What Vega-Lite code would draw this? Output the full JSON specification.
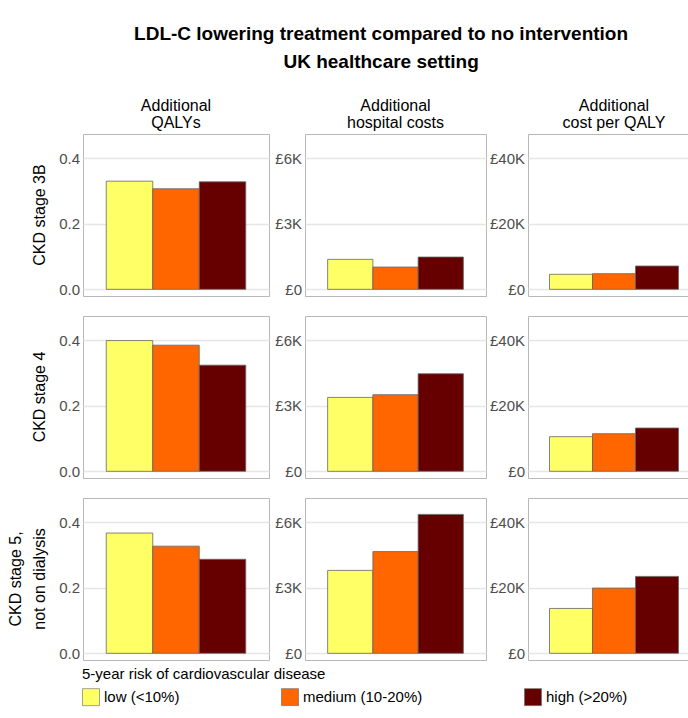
{
  "$schema": "https://vega.github.io/schema/vega-lite/v6.json",
  "background": "white",
  "padding": {"left": 7, "top": 25, "right": 0, "bottom": 0},
  "title": {
    "text": ["LDL-C lowering treatment compared to no intervention", "UK healthcare setting"],
    "fontSize": 19,
    "fontWeight": "bold",
    "lineHeight": 28,
    "anchor": "middle",
    "dx": 27,
    "color": "#000000",
    "offset": 26
  },
  "data": {
    "values": [
      {"metric": "Additional QALYs", "stage": "CKD stage 3B", "risk": "low (<10%)", "value": 0.330},
      {"metric": "Additional QALYs", "stage": "CKD stage 3B", "risk": "medium (10-20%)", "value": 0.307},
      {"metric": "Additional QALYs", "stage": "CKD stage 3B", "risk": "high (>20%)", "value": 0.328},
      {"metric": "Additional QALYs", "stage": "CKD stage 4", "risk": "low (<10%)", "value": 0.399},
      {"metric": "Additional QALYs", "stage": "CKD stage 4", "risk": "medium (10-20%)", "value": 0.385},
      {"metric": "Additional QALYs", "stage": "CKD stage 4", "risk": "high (>20%)", "value": 0.324},
      {"metric": "Additional QALYs", "stage": "CKD stage 5, not on dialysis", "risk": "low (<10%)", "value": 0.367},
      {"metric": "Additional QALYs", "stage": "CKD stage 5, not on dialysis", "risk": "medium (10-20%)", "value": 0.327},
      {"metric": "Additional QALYs", "stage": "CKD stage 5, not on dialysis", "risk": "high (>20%)", "value": 0.287},
      {"metric": "Additional hospital costs", "stage": "CKD stage 3B", "risk": "low (<10%)", "value": 1370},
      {"metric": "Additional hospital costs", "stage": "CKD stage 3B", "risk": "medium (10-20%)", "value": 1018},
      {"metric": "Additional hospital costs", "stage": "CKD stage 3B", "risk": "high (>20%)", "value": 1476},
      {"metric": "Additional hospital costs", "stage": "CKD stage 4", "risk": "low (<10%)", "value": 3379},
      {"metric": "Additional hospital costs", "stage": "CKD stage 4", "risk": "medium (10-20%)", "value": 3502},
      {"metric": "Additional hospital costs", "stage": "CKD stage 4", "risk": "high (>20%)", "value": 4461},
      {"metric": "Additional hospital costs", "stage": "CKD stage 5, not on dialysis", "risk": "low (<10%)", "value": 3790},
      {"metric": "Additional hospital costs", "stage": "CKD stage 5, not on dialysis", "risk": "medium (10-20%)", "value": 4650},
      {"metric": "Additional hospital costs", "stage": "CKD stage 5, not on dialysis", "risk": "high (>20%)", "value": 6350},
      {"metric": "Additional cost per QALY", "stage": "CKD stage 3B", "risk": "low (<10%)", "value": 4570},
      {"metric": "Additional cost per QALY", "stage": "CKD stage 3B", "risk": "medium (10-20%)", "value": 4770},
      {"metric": "Additional cost per QALY", "stage": "CKD stage 3B", "risk": "high (>20%)", "value": 7100},
      {"metric": "Additional cost per QALY", "stage": "CKD stage 4", "risk": "low (<10%)", "value": 10560},
      {"metric": "Additional cost per QALY", "stage": "CKD stage 4", "risk": "medium (10-20%)", "value": 11470},
      {"metric": "Additional cost per QALY", "stage": "CKD stage 4", "risk": "high (>20%)", "value": 13190},
      {"metric": "Additional cost per QALY", "stage": "CKD stage 5, not on dialysis", "risk": "low (<10%)", "value": 13670},
      {"metric": "Additional cost per QALY", "stage": "CKD stage 5, not on dialysis", "risk": "medium (10-20%)", "value": 19880},
      {"metric": "Additional cost per QALY", "stage": "CKD stage 5, not on dialysis", "risk": "high (>20%)", "value": 23440}
    ]
  },
  "spacing": 4,
  "hconcat": [
    {
      "transform": [{"filter": "datum.metric == 'Additional QALYs'"}],
      "facet": {
        "row": {
          "field": "stage", "type": "nominal",
          "sort": ["CKD stage 3B", "CKD stage 4", "CKD stage 5, not on dialysis"],
          "header": {
            "title": null,
            "labelFontSize": 16,
            "labelColor": "#000000",
            "labelAngle": 270,
            "labelLineHeight": 24,
            "labelPadding": -5,
            "labelExpr": "datum.value == 'CKD stage 5, not on dialysis' ? ['CKD stage 5,', 'not on dialysis'] : datum.value"
          }
        },
        "column": {
          "field": "metric", "type": "nominal",
          "header": {
            "title": null,
            "labelFontSize": 16,
            "labelColor": "#000000",
            "labelLineHeight": 17,
            "labelPadding": 2,
            "labelExpr": "['Additional', substring(datum.value, 11)]"
          }
        }
      },
      "spacing": {"row": 18},
      "spec": {
        "width": 186,
        "height": 162,
        "mark": {"type": "bar", "stroke": "#666666", "strokeWidth": 0.8},
        "encoding": {
          "x": {"field": "risk", "type": "nominal", "sort": ["low (<10%)", "medium (10-20%)", "high (>20%)"], "scale": {"paddingInner": 0, "paddingOuter": 0.5}, "axis": null},
          "y": {"field": "value", "type": "quantitative", "scale": {"domain": [-0.0204, 0.474], "nice": false}, "axis": {"values": [0, 0.2, 0.4], "format": ".1f", "title": null}},
          "color": {
            "field": "risk", "type": "nominal",
            "scale": {"domain": ["low (<10%)", "medium (10-20%)", "high (>20%)"], "range": ["#FFFF66", "#FF6600", "#660000"]},
            "legend": {
              "orient": "none", "legendX": -1, "legendY": 533,
              "direction": "horizontal",
              "title": "5-year risk of cardiovascular disease",
              "titleLimit": 500,
              "titleFontSize": 15, "titleFontWeight": "normal", "titleColor": "#000000",
              "labelFontSize": 15, "labelColor": "#000000",
              "symbolType": "square", "symbolSize": 289, "symbolOpacity": 1,
              "symbolStrokeColor": "#999999", "symbolStrokeWidth": 0.6,
              "columnPadding": 100, "titlePadding": 6, "labelOffset": 4
            }
          }
        }
      }
    },
    {
      "spacing": 2,
      "hconcat": [
        {
          "transform": [{"filter": "datum.metric == 'Additional hospital costs'"}],
          "facet": {
            "row": {
              "field": "stage", "type": "nominal",
              "sort": ["CKD stage 3B", "CKD stage 4", "CKD stage 5, not on dialysis"],
              "header": {"title": null, "labels": false}
            },
            "column": {
              "field": "metric", "type": "nominal",
              "header": {
                "title": null,
                "labelFontSize": 16,
                "labelColor": "#000000",
                "labelLineHeight": 17,
                "labelPadding": 2,
                "labelExpr": "['Additional', substring(datum.value, 11)]"
              }
            }
          },
          "spacing": {"row": 18},
          "spec": {
            "width": 181,
            "height": 162,
            "mark": {"type": "bar", "stroke": "#666666", "strokeWidth": 0.8},
            "encoding": {
              "x": {"field": "risk", "type": "nominal", "sort": ["low (<10%)", "medium (10-20%)", "high (>20%)"], "scale": {"paddingInner": 0, "paddingOuter": 0.5}, "axis": null},
              "y": {"field": "value", "type": "quantitative", "scale": {"domain": [-305, 7099], "nice": false}, "axis": {"values": [0, 3000, 6000], "labelExpr": "datum.value == 0 ? '£0' : '£' + (datum.value / 1000) + 'K'", "title": null}},
              "color": {
                "field": "risk", "type": "nominal",
                "scale": {"domain": ["low (<10%)", "medium (10-20%)", "high (>20%)"], "range": ["#FFFF66", "#FF6600", "#660000"]}
              }
            }
          }
        },
        {
          "transform": [{"filter": "datum.metric == 'Additional cost per QALY'"}],
          "facet": {
            "row": {
              "field": "stage", "type": "nominal",
              "sort": ["CKD stage 3B", "CKD stage 4", "CKD stage 5, not on dialysis"],
              "header": {"title": null, "labels": false}
            },
            "column": {
              "field": "metric", "type": "nominal",
              "header": {
                "title": null,
                "labelFontSize": 16,
                "labelColor": "#000000",
                "labelLineHeight": 17,
                "labelPadding": 2,
                "labelExpr": "['Additional', substring(datum.value, 11)]"
              }
            }
          },
          "spacing": {"row": 18},
          "spec": {
            "width": 172,
            "height": 162,
            "mark": {"type": "bar", "stroke": "#666666", "strokeWidth": 0.8},
            "encoding": {
              "x": {"field": "risk", "type": "nominal", "sort": ["low (<10%)", "medium (10-20%)", "high (>20%)"], "scale": {"paddingInner": 0, "paddingOuter": 0.5}, "axis": null},
              "y": {"field": "value", "type": "quantitative", "scale": {"domain": [-2036, 47325], "nice": false}, "axis": {"values": [0, 20000, 40000], "labelExpr": "datum.value == 0 ? '£0' : '£' + (datum.value / 1000) + 'K'", "title": null}},
              "color": {
                "field": "risk", "type": "nominal",
                "scale": {"domain": ["low (<10%)", "medium (10-20%)", "high (>20%)"], "range": ["#FFFF66", "#FF6600", "#660000"]}
              }
            }
          }
        }
      ]
    }
  ],
  "config": {
    "font": "Liberation Sans",
    "view": {"stroke": "#b8b8b8", "strokeWidth": 1},
    "axis": {
      "grid": true, "gridColor": "#e6e6e6", "gridWidth": 1.6,
      "ticks": false, "domain": false,
      "labelFontSize": 15, "labelColor": "#4d4d4d", "labelPadding": 2.5
    },
    "header": {"labelFont": "Liberation Sans"},
    "legend": {"labelFont": "Liberation Sans", "titleFont": "Liberation Sans"}
  }
}
